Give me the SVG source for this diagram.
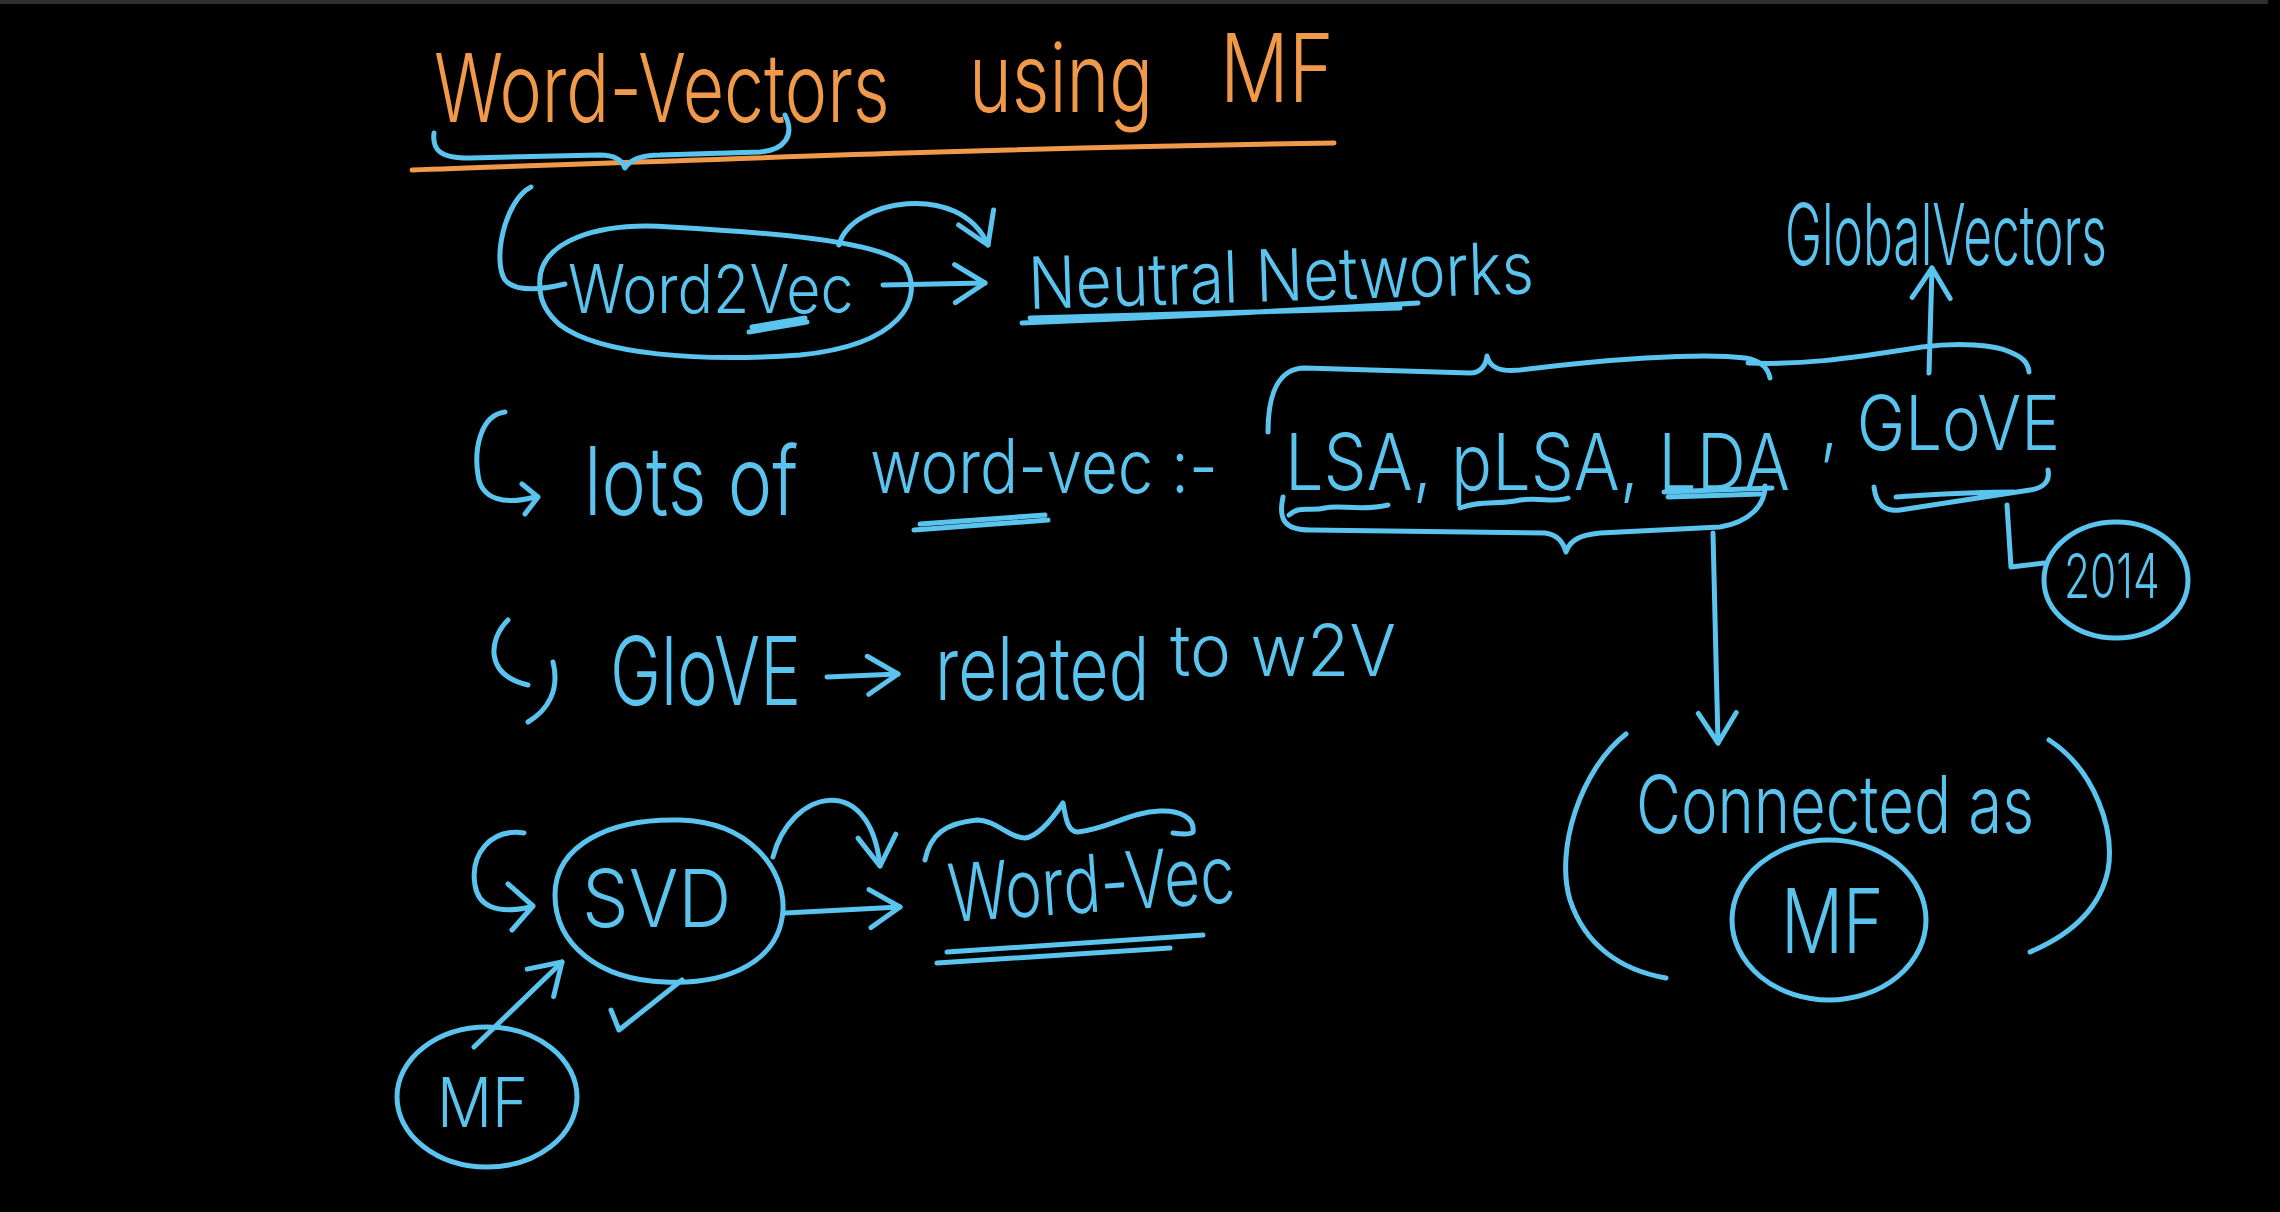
<svg xmlns="http://www.w3.org/2000/svg" width="2280" height="1212" viewBox="0 0 2280 1212">
<defs>
<style>
.b{fill:none;stroke:#5ac3ee;stroke-width:5;stroke-linecap:round;stroke-linejoin:round}
.o{fill:none;stroke:#f0994a;stroke-width:5;stroke-linecap:round;stroke-linejoin:round}
.t{fill:#5ac3ee;font-family:Inter,"Open Sans","Liberation Sans",sans-serif;font-weight:300}
.to{fill:#f0994a;font-family:Inter,"Open Sans","Liberation Sans",sans-serif;font-weight:300}
</style>
<marker id="ah" viewBox="0 0 40 44" refX="36" refY="22" markerWidth="40" markerHeight="44" markerUnits="userSpaceOnUse" orient="auto">
<path d="M6 3 L36 22 L6 41" fill="none" stroke="#5ac3ee" stroke-width="5" stroke-linecap="round" stroke-linejoin="round"/>
</marker>
</defs>
<rect x="0" y="0" width="2280" height="1212" fill="#000"/>
<rect x="0" y="0" width="2268" height="4" fill="#2e2e2e"/>

<g id="title">
<text class="to" transform="translate(434 122) scale(0.72 1)" font-size="95" textLength="633" lengthAdjust="spacingAndGlyphs">Word-Vectors</text>
<text class="to" transform="translate(969 112) scale(0.77 1)" font-size="95" textLength="239" lengthAdjust="spacingAndGlyphs">using</text>
<text class="to" transform="translate(1220 102) scale(0.83 1)" font-size="95" textLength="137" lengthAdjust="spacingAndGlyphs">MF</text>
<path class="o" d="M412 170 C700 160 1000 148 1334 143"/>
<path class="b" d="M434 133 C432 150 440 158 470 158 L600 155 C615 155 622 160 625 168 C630 160 640 155 660 155 L760 152 C785 150 795 135 785 115"/>
</g>

<g id="word2vec">
<path class="b" d="M531 187 C505 200 492 260 505 280 C515 292 540 290 565 284"/>
<path class="b" d="M540 287 C535 240 600 222 670 227 C760 232 880 240 905 265 C925 300 900 345 800 355 C700 362 600 355 560 325 C545 312 540 300 540 287 Z"/>
<text class="t" transform="translate(568 313) scale(0.85 1)" font-size="68" textLength="336" lengthAdjust="spacingAndGlyphs">Word2Vec</text>
<path class="b" d="M749 332 L807 322 M752 327 L805 318"/>
</g>

<g id="neural-networks">
<text class="t" transform="translate(1029 309) rotate(-1.8) scale(0.86 1)" font-size="72" textLength="588" lengthAdjust="spacingAndGlyphs">Neutral Networks</text>
<path class="b" d="M1022 323 C1150 318 1300 310 1418 303 M1030 318 L1400 308"/>
</g>

<g id="lots-of-word-vec">
<path class="b" d="M505 412 C480 415 474 450 478 475 C481 500 505 505 535 497 M522 484 L538 497 L525 514"/>
<text class="t" transform="translate(584 515) scale(0.77 1)" font-size="95" textLength="278" lengthAdjust="spacingAndGlyphs">lots of</text>
<text class="t" transform="translate(870 493) scale(0.85 1)" font-size="75" textLength="409" lengthAdjust="spacingAndGlyphs">word-vec :-</text>
<path class="b" d="M914 530 L1048 520 M920 524 L1045 515"/>
</g>

<g id="lsa-plsa-lda">
<text class="t" transform="translate(1285 490) scale(0.875 1)" font-size="78" textLength="577" lengthAdjust="spacingAndGlyphs">LSA, pLSA, LDA</text>
<path class="b" d="M1289 515 C1300 505 1310 512 1325 508 C1340 504 1360 512 1388 505 M1460 508 C1480 500 1500 505 1520 500 C1540 497 1555 503 1568 498 M1664 492 L1772 488 M1668 497 L1760 494"/>
<path class="b" d="M1268 432 C1268 395 1278 368 1305 368 L1470 373 C1480 373 1486 366 1487 356 C1490 368 1500 372 1520 370 C1600 360 1700 352 1745 358 C1760 360 1768 368 1770 378"/>
<path class="b" d="M1283 497 C1278 520 1285 530 1310 530 L1545 533 C1558 535 1563 542 1566 552 C1570 540 1580 535 1600 533 L1720 527 C1750 522 1765 505 1765 486"/>
</g>

<g id="glove">
<text class="t" transform="translate(1820 450) scale(0.86 1)" font-size="76" textLength="279" lengthAdjust="spacingAndGlyphs">, GLoVE</text>
<path class="b" d="M1748 363 C1800 365 1840 360 1922 347 C1960 342 1995 345 2010 352 C2022 357 2028 362 2029 372"/>
<path class="b" d="M1874 487 C1876 505 1885 512 1900 510 L2030 490 C2045 488 2050 480 2048 470 M1896 497 C1930 495 1960 492 2014 492"/>
</g>

<g id="global-vectors">
<text class="t" transform="translate(1785 265) scale(0.574 1)" font-size="85" textLength="561" lengthAdjust="spacingAndGlyphs">GlobalVectors</text>
</g>

<g id="year-2014">
<ellipse class="b" cx="2116" cy="580" rx="72" ry="58"/>
<text class="t" transform="translate(2064 598) scale(0.71 1)" font-size="62" textLength="135" lengthAdjust="spacingAndGlyphs">2014</text>
</g>

<g id="glove-related">
<path class="b" d="M508 620 C488 640 485 675 528 685 M553 662 C560 690 548 710 528 722"/>
<text class="t" transform="translate(610 705) scale(0.71 1)" font-size="95" textLength="269" lengthAdjust="spacingAndGlyphs">GloVE</text>
<text class="t" transform="translate(935 700) scale(0.76 1)" font-size="88" textLength="282" lengthAdjust="spacingAndGlyphs">related</text>
<text class="t" transform="translate(1170 676)" font-size="72" textLength="226" lengthAdjust="spacingAndGlyphs">to w2V</text>
</g>

<g id="connected-as-mf">
<path class="b" d="M1626 734 C1580 770 1555 850 1570 900 C1585 945 1620 970 1666 978"/>
<path class="b" d="M2049 740 C2095 770 2115 830 2108 870 C2100 910 2070 935 2030 952"/>
<text class="t" transform="translate(1636 833) scale(0.77 1)" font-size="80" textLength="517" lengthAdjust="spacingAndGlyphs">Connected as</text>
<ellipse class="b" cx="1829" cy="920" rx="97" ry="80"/>
<text class="t" transform="translate(1781 953) scale(0.79 1)" font-size="90" textLength="130" lengthAdjust="spacingAndGlyphs">MF</text>
</g>

<g id="svd">
<path class="b" d="M524 833 C490 828 470 855 475 885 C478 905 495 915 530 907 M508 884 L533 906 L512 930"/>
<path class="b" d="M555 895 C555 845 610 818 680 820 C750 822 785 870 783 910 C780 960 730 985 665 982 C600 980 555 945 555 895 Z"/>
<text class="t" transform="translate(582 927) scale(0.9 1)" font-size="80" textLength="166" lengthAdjust="spacingAndGlyphs">SVD</text>
<path class="b" d="M611 1010 L619 1030 L682 980"/>
</g>

<g id="word-vec">
<path class="b" d="M925 860 C930 835 945 823 977 820 C995 820 1010 838 1025 838 C1040 836 1055 815 1063 803 C1066 820 1068 832 1078 832 C1110 828 1130 812 1160 811 C1180 810 1195 818 1193 832 C1190 835 1180 834 1173 833"/>
<text class="t" transform="translate(950 922) rotate(-4) scale(0.75 1)" font-size="80" textLength="383" lengthAdjust="spacingAndGlyphs">Word-Vec</text>
<path class="b" d="M947 952 L1203 935 M937 963 L1170 948"/>
</g>

<g id="mf">
<ellipse class="b" cx="487" cy="1097" rx="90" ry="70"/>
<text class="t" transform="translate(437 1127) scale(0.92 1)" font-size="68" textLength="99" lengthAdjust="spacingAndGlyphs">MF</text>
</g>

<g id="connectors">
<path class="b" d="M883 285 L985 283" marker-end="url(#ah)"/>
<path class="b" d="M839 245 C850 200 960 180 988 245" marker-end="url(#ah)"/>
<path class="b" d="M827 677 L898 674" marker-end="url(#ah)"/>
<path class="b" d="M1713 533 L1718 743" marker-end="url(#ah)"/>
<path class="b" d="M1929 373 L1932 268" marker-end="url(#ah)"/>
<path class="b" d="M2007 505 L2011 567 L2044 563"/>
<path class="b" d="M785 913 L900 907" marker-end="url(#ah)"/>
<path class="b" d="M773 857 C790 790 870 770 880 866" marker-end="url(#ah)"/>
<path class="b" d="M474 1047 L562 962" marker-end="url(#ah)"/>
</g>
</svg>
